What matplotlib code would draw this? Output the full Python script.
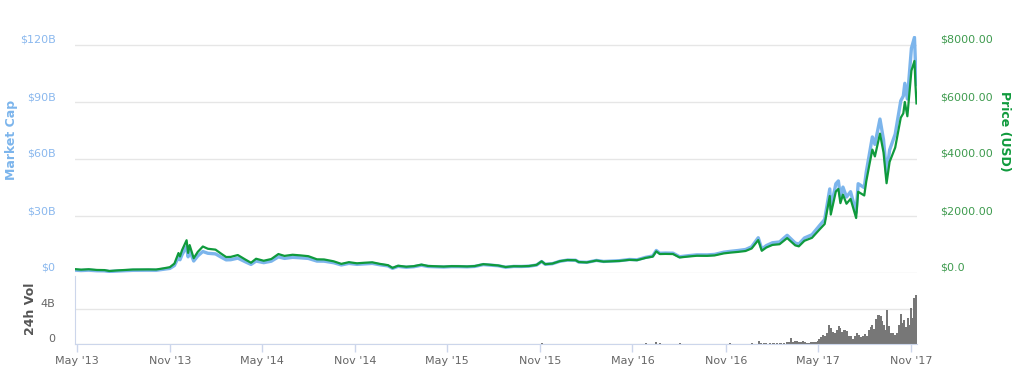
import pandas as pd
import matplotlib
matplotlib.use("Agg")
import matplotlib.pyplot as plt

# price / market cap samples
dates = [
    "2013-04-28", "2013-05-10", "2013-05-25", "2013-06-10", "2013-06-25", "2013-07-05",
    "2013-07-20", "2013-08-05", "2013-08-20", "2013-09-05", "2013-09-20", "2013-10-05",
    "2013-10-20", "2013-11-01", "2013-11-10", "2013-11-18", "2013-11-21", "2013-11-25",
    "2013-12-04", "2013-12-07", "2013-12-10", "2013-12-18", "2013-12-26",
    "2014-01-05", "2014-01-15", "2014-01-30", "2014-02-10", "2014-02-20", "2014-03-01",
    "2014-03-15", "2014-03-30", "2014-04-10", "2014-04-20", "2014-05-05", "2014-05-20",
    "2014-06-03", "2014-06-15", "2014-07-01", "2014-07-15", "2014-08-01", "2014-08-18",
    "2014-09-01", "2014-09-20", "2014-10-05", "2014-10-20", "2014-11-05", "2014-11-20",
    "2014-12-05", "2014-12-20",
    "2015-01-05", "2015-01-14", "2015-01-25", "2015-02-10", "2015-02-25", "2015-03-12",
    "2015-03-25", "2015-04-10", "2015-04-25", "2015-05-10", "2015-05-25", "2015-06-10",
    "2015-06-25", "2015-07-12", "2015-07-25", "2015-08-10", "2015-08-25", "2015-09-10",
    "2015-09-25", "2015-10-10", "2015-10-25", "2015-11-04", "2015-11-11", "2015-11-25",
    "2015-12-10", "2015-12-25",
    "2016-01-10", "2016-01-16", "2016-02-01", "2016-02-20", "2016-03-05", "2016-03-20",
    "2016-04-05", "2016-04-25", "2016-05-10", "2016-05-27", "2016-06-10", "2016-06-17",
    "2016-06-24", "2016-07-05", "2016-07-20", "2016-08-02", "2016-08-20", "2016-09-05",
    "2016-09-25", "2016-10-10", "2016-10-28", "2016-11-10", "2016-11-25", "2016-12-10",
    "2016-12-22",
    "2017-01-04", "2017-01-11", "2017-01-20", "2017-02-01", "2017-02-15", "2017-03-02",
    "2017-03-10", "2017-03-18", "2017-03-25", "2017-04-05", "2017-04-20", "2017-05-05",
    "2017-05-15", "2017-05-25", "2017-05-27", "2017-06-06", "2017-06-11", "2017-06-15",
    "2017-06-20", "2017-06-27", "2017-07-05", "2017-07-16", "2017-07-20", "2017-08-01",
    "2017-08-05", "2017-08-12", "2017-08-17", "2017-08-22", "2017-09-01", "2017-09-08",
    "2017-09-14", "2017-09-20", "2017-10-01", "2017-10-12", "2017-10-17", "2017-10-20",
    "2017-10-25", "2017-11-02", "2017-11-08", "2017-11-10", "2017-11-12",
]

price_usd = [
    135, 117, 132, 107, 102, 70,
    90, 105, 122, 126, 126, 122,
    165, 204, 330, 700, 580, 800,
    1150, 705, 980, 520, 740,
    930, 850, 820, 680, 560, 565,
    630, 470, 360, 500, 430, 490,
    665, 600, 640, 620, 590, 480,
    475, 410, 320, 380, 340, 360,
    375, 320,
    275, 180, 255, 220, 240, 295,
    247, 235, 225, 240, 238, 229,
    243, 310, 290, 265, 210, 238,
    235, 245, 285, 410, 310, 330,
    415, 455,
    448, 385, 372, 437, 400, 412,
    422, 462, 450, 530, 575, 760,
    665, 670, 665, 545, 580, 605,
    602, 617, 688, 715, 740, 772,
    860,
    1155, 780, 895, 985, 1010, 1225,
    1100, 970, 935, 1130, 1235, 1530,
    1720, 2700, 2050, 2860, 2950, 2450,
    2750, 2430, 2600, 1930, 2850, 2720,
    3220, 3880, 4330, 4090, 4890, 4230,
    3150, 3900, 4400, 5450, 5600, 6000,
    5500, 7100, 7440, 6600, 5950,
]

market_cap_b = [
    1.50, 1.30, 1.48, 1.20, 1.15, 0.79,
    1.02, 1.20, 1.41, 1.46, 1.47, 1.43,
    1.95, 2.42, 3.94, 8.39, 6.96, 9.62,
    13.87, 8.51, 11.84, 6.30, 8.98,
    11.32, 10.38, 10.05, 8.36, 6.91, 6.99,
    7.83, 5.87, 4.51, 6.29, 5.44, 6.22,
    8.49, 7.69, 8.24, 8.02, 7.67, 6.27,
    6.23, 5.41, 4.24, 5.06, 4.55, 4.83,
    5.06, 4.33,
    3.74, 2.46, 3.49, 3.02, 3.31, 4.09,
    3.43, 3.28, 3.15, 3.37, 3.36, 3.25,
    3.46, 4.43, 4.16, 3.82, 3.04, 3.46,
    3.43, 3.59, 4.19, 6.04, 4.58, 4.89,
    6.18, 6.80,
    6.72, 5.78, 5.61, 6.62, 6.08, 6.29,
    6.47, 7.11, 6.95, 8.23, 8.95, 11.86,
    10.39, 10.49, 10.43, 8.56, 9.14, 9.55,
    9.52, 9.79, 10.94, 11.40, 11.83, 12.37,
    13.80,
    18.57, 12.56, 14.43, 15.91, 16.34, 19.86,
    17.85, 15.76, 15.20, 18.41, 20.16, 25.02,
    28.16, 44.25, 33.60, 46.96, 48.45, 40.25,
    45.21, 39.97, 42.80, 31.81, 47.00, 44.91,
    53.19, 64.14, 71.62, 67.69, 81.03, 70.13,
    52.26, 64.74, 73.08, 90.63, 93.13, 99.84,
    91.58, 118.29, 124.02, 110.02, 99.19,
]

# 24h volume (billions USD)
vol_dates = [
    "2013-12-27", "2014-02-10", "2014-04-10", "2014-06-10", "2014-08-10", "2014-10-10",
    "2014-12-10", "2015-02-10", "2015-04-10", "2015-06-10", "2015-08-10", "2015-11-04",
    "2016-01-10", "2016-03-10", "2016-05-27", "2016-06-17", "2016-06-24", "2016-08-02",
    "2016-10-10", "2016-11-10", "2016-12-22",
    "2017-01-05", "2017-01-09", "2017-01-15", "2017-01-20", "2017-01-28", "2017-02-03",
    "2017-02-10", "2017-02-17", "2017-02-24", "2017-03-02", "2017-03-06", "2017-03-10",
    "2017-03-14", "2017-03-18", "2017-03-22", "2017-03-26", "2017-03-30", "2017-04-03",
    "2017-04-07", "2017-04-11", "2017-04-15", "2017-04-19", "2017-04-23", "2017-04-27",
    "2017-05-01", "2017-05-04", "2017-05-08", "2017-05-12", "2017-05-16", "2017-05-20",
    "2017-05-24", "2017-05-27", "2017-05-31", "2017-06-04", "2017-06-08", "2017-06-12",
    "2017-06-15", "2017-06-19", "2017-06-23", "2017-06-27", "2017-07-01", "2017-07-05",
    "2017-07-09", "2017-07-13", "2017-07-17", "2017-07-21", "2017-07-25", "2017-07-29",
    "2017-08-02", "2017-08-06", "2017-08-10", "2017-08-14", "2017-08-17", "2017-08-21",
    "2017-08-25", "2017-08-29", "2017-09-02", "2017-09-05", "2017-09-08", "2017-09-11",
    "2017-09-15", "2017-09-18", "2017-09-22", "2017-09-26", "2017-09-30", "2017-10-04",
    "2017-10-08", "2017-10-12", "2017-10-15", "2017-10-19", "2017-10-22", "2017-10-26",
    "2017-10-29", "2017-11-01", "2017-11-05", "2017-11-08", "2017-11-10", "2017-11-12",
]

volume_b = [
    0.03, 0.03, 0.02, 0.02, 0.02, 0.03,
    0.02, 0.03, 0.02, 0.02, 0.03, 0.10,
    0.04, 0.03, 0.10, 0.23, 0.15, 0.08,
    0.05, 0.08, 0.12,
    0.30, 0.15, 0.10, 0.10, 0.08, 0.12,
    0.10, 0.10, 0.15, 0.20, 0.22, 0.65,
    0.25, 0.35, 0.30, 0.20, 0.25, 0.30,
    0.20, 0.15, 0.15, 0.20, 0.20, 0.25,
    0.30, 0.60, 0.80, 1.00, 0.90, 1.30,
    2.10, 1.80, 1.40, 1.20, 1.60, 2.00,
    1.80, 1.40, 1.60, 1.50, 0.90, 0.90,
    0.60, 0.90, 1.30, 1.00, 0.80, 0.90,
    1.10, 0.90, 1.60, 1.90, 2.20, 1.70,
    2.80, 3.30, 3.20, 2.60, 2.20, 1.60,
    3.90, 2.00, 1.30, 1.20, 1.00, 1.30,
    2.20, 3.40, 2.40, 2.70, 1.90, 3.00,
    2.20, 4.10, 3.00, 5.20, 4.60, 5.50,
]

cap_ticks = [0, 30, 60, 90, 120]
cap_labels = ["$0", "$30B", "$60B", "$90B", "$120B"]
price_ticks = [0, 2000, 4000, 6000, 8000]
price_labels = ["$0.0", "$2000.00", "$4000.00", "$6000.00", "$8000.00"]
month_ticks = ["2013-05-01", "2013-11-01", "2014-05-01", "2014-11-01", "2015-05-01",
               "2015-11-01", "2016-05-01", "2016-11-01", "2017-05-01", "2017-11-01"]
month_labels = ["May '13", "Nov '13", "May '14", "Nov '14", "May '15",
                "Nov '15", "May '16", "Nov '16", "May '17", "Nov '17"]

BLUE = "#7cb5ec"
GREEN = "#0f9a3c"
W, H = 1024, 384

x = pd.to_datetime(dates)
xv = pd.to_datetime(vol_dates)
x0, x1 = pd.Timestamp("2013-04-28"), pd.Timestamp("2017-11-13")

fig = plt.figure(figsize=(W / 100, H / 100), dpi=100)
plt.rcParams["font.family"] = ["DejaVu Sans"]

# main panel
ax = fig.add_axes([75 / W, 1 - 273 / H, 842 / W, 237.5 / H])
ax.plot(x, market_cap_b, color=BLUE, lw=2.4, solid_joinstyle="round")
ax.set_xlim(x0, x1)
ax.set_ylim(0, 125)
ax.set_yticks(cap_ticks)
ax.set_yticklabels(cap_labels)
ax.grid(axis="y", color="#e6e6e6", lw=1)
ax.set_axisbelow(True)
ax.tick_params(axis="y", length=0, pad=14, labelsize=8, labelcolor="#8ab8ee")
ax.tick_params(axis="x", bottom=False, labelbottom=False)
for s in ax.spines.values():
    s.set_visible(False)
for t in ax.get_yticklabels():
    t.set_va("bottom")

ax2 = ax.twinx()
ax2.plot(x, price_usd, color=GREEN, lw=1.6, solid_joinstyle="round")
ax2.set_ylim(0, 125 / 15 * 1000)
ax2.set_yticks(price_ticks)
ax2.set_yticklabels(price_labels)
ax2.tick_params(axis="y", length=0, pad=17, labelsize=8, labelcolor="#3f9b4f")
for s in ax2.spines.values():
    s.set_visible(False)
for t in ax2.get_yticklabels():
    t.set_va("bottom")

# volume panel
axv = fig.add_axes([75 / W, 1 - 344 / H, 842 / W, 68 / H])
axv.bar(xv, volume_b, width=4.2, color="#777777", linewidth=0)
axv.set_xlim(x0, x1)
axv.set_ylim(0, 7.7)
axv.set_yticks([0, 4])
axv.set_yticklabels(["0", "4B"])
axv.grid(axis="y", color="#e6e6e6", lw=1)
axv.set_axisbelow(True)
axv.tick_params(axis="y", length=0, pad=14, labelsize=8, labelcolor="#666666")
for t in axv.get_yticklabels():
    t.set_va("bottom")
axv.set_xticks(pd.to_datetime(month_ticks))
axv.set_xticklabels(month_labels)
axv.tick_params(axis="x", length=6, width=1, color="#ccd6eb", pad=3,
                labelsize=8, labelcolor="#666666")
for side in ["top", "right"]:
    axv.spines[side].set_visible(False)
axv.spines["left"].set_color("#ccd6eb")
axv.spines["bottom"].set_color("#ccd6eb")

fig.text(12 / W, 1 - 140 / H, "Market Cap", rotation=90, color=BLUE,
         fontsize=9, fontweight="bold", ha="center", va="center")
fig.text(1005 / W, 1 - 131 / H, "Price (USD)", rotation=270, color=GREEN,
         fontsize=9, fontweight="bold", ha="center", va="center")
fig.text(30 / W, 1 - 309 / H, "24h Vol", rotation=90, color="#555555",
         fontsize=9, fontweight="bold", ha="center", va="center")

fig.savefig("out.png", dpi=100, facecolor="white")
